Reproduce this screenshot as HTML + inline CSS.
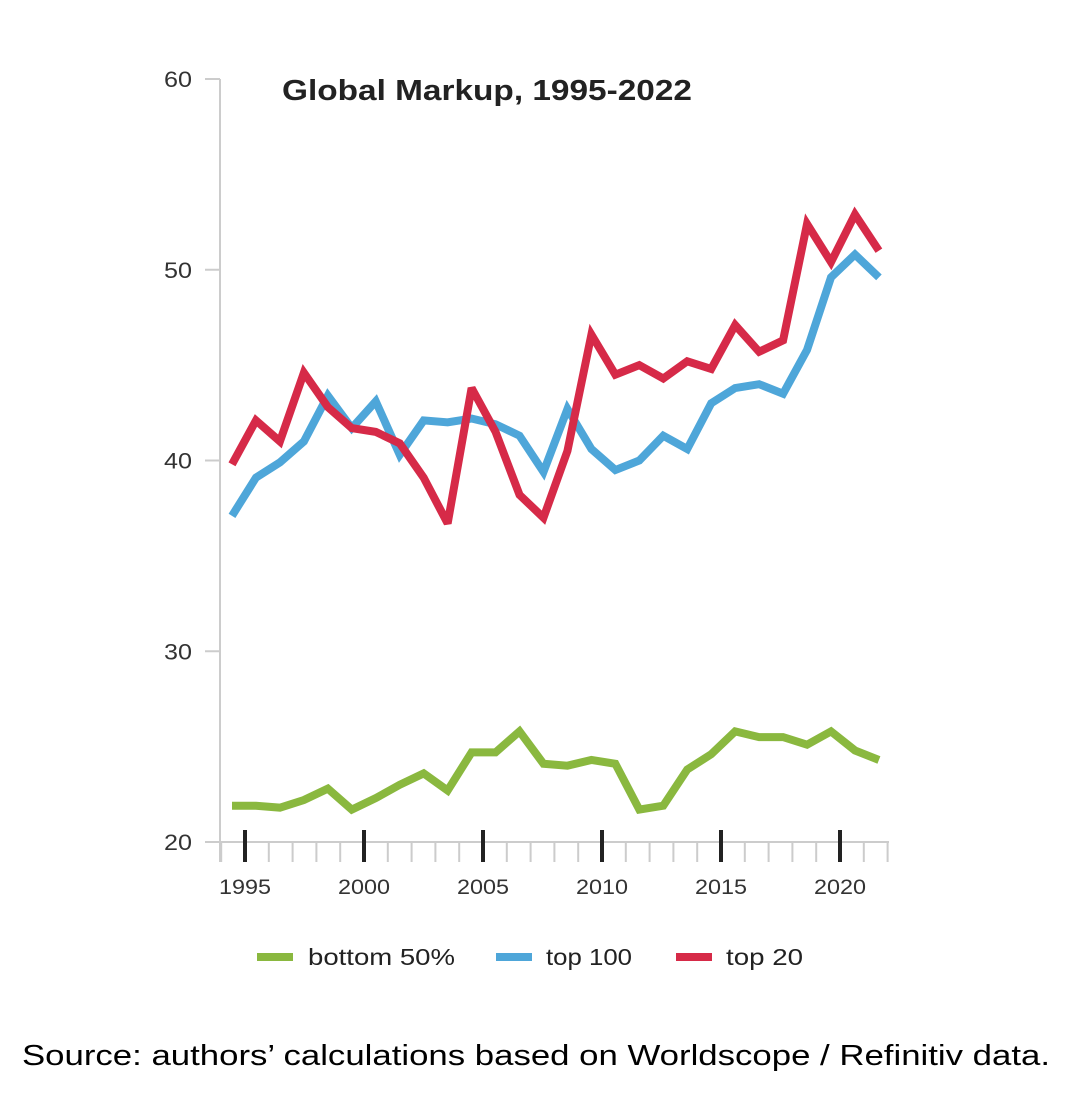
<!DOCTYPE html>
<html><head><meta charset="utf-8"><style>
body{margin:0;background:#fff;width:1072px;height:1090px;overflow:hidden;font-family:"Liberation Sans",sans-serif}
</style></head><body>
<svg width="1072" height="1090">
<text x="282" y="100" font-size="29" font-weight="bold" fill="#222" textLength="410" lengthAdjust="spacingAndGlyphs">Global Markup, 1995-2022</text>
<g id="axes"></g><g id="series"></g>
<g>
<g><line x1="257" y1="957" x2="293" y2="957" stroke="#8ab83f" stroke-width="8"/><text x="308" y="965" font-size="23" fill="#222" textLength="147" lengthAdjust="spacingAndGlyphs">bottom 50%</text></g>
<g><line x1="496" y1="957" x2="532" y2="957" stroke="#4ea6d9" stroke-width="8"/><text x="546" y="965" font-size="23" fill="#222" textLength="86" lengthAdjust="spacingAndGlyphs">top 100</text></g>
<g><line x1="676" y1="957" x2="712" y2="957" stroke="#d62a48" stroke-width="8"/><text x="726" y="965" font-size="23" fill="#222" textLength="77" lengthAdjust="spacingAndGlyphs">top 20</text></g>
</g>
<text x="22" y="1065" font-size="29" fill="#000" textLength="1028" lengthAdjust="spacingAndGlyphs">Source: authors’ calculations based on Worldscope / Refinitiv data.</text>
</svg>
<script>
const years=[1995,1996,1997,1998,1999,2000,2001,2002,2003,2004,2005,2006,2007,2008,2009,2010,2011,2012,2013,2014,2015,2016,2017,2018,2019,2020,2021,2022];
const top20=[39.8,42.1,41.0,44.6,42.8,41.7,41.5,40.9,39.1,36.7,43.8,41.5,38.2,37.0,40.5,46.6,44.5,45.0,44.3,45.2,44.8,47.1,45.7,46.3,52.4,50.4,52.9,51.0];
const top100=[37.1,39.1,39.9,41.0,43.4,41.7,43.1,40.3,42.1,42.0,42.2,41.9,41.3,39.4,42.7,40.6,39.5,40.0,41.3,40.6,43.0,43.8,44.0,43.5,45.8,49.6,50.8,49.6];
const bottom50=[21.9,21.9,21.8,22.2,22.8,21.7,22.3,23.0,23.6,22.7,24.7,24.7,25.8,24.1,24.0,24.3,24.1,21.7,21.9,23.8,24.6,25.8,25.5,25.5,25.1,25.8,24.8,24.3];
const yTicks=[20,30,40,50,60];
const xLabels=[1995,2000,2005,2010,2015,2020];
const NS='http://www.w3.org/2000/svg';
const yS=v=>842-(v-20)*19.075;
const xS=yr=>232+(yr-1995)*23.96;
const tS=yr=>245+(yr-1995)*23.8;
function mk(t,a,p){const e=document.createElementNS(NS,t);for(const k in a)e.setAttribute(k,a[k]);p.appendChild(e);return e;}
const ax=document.getElementById('axes');
let yl=mk('line',{x1:220,y1:79,x2:220,y2:862,stroke:'#ccc','stroke-width':2},ax);


let xl=mk('line',{x1:205,y1:842,x2:889,y2:842,stroke:'#ccc','stroke-width':2},ax);


yTicks.forEach(v=>{
 mk('line',{x1:205,y1:yS(v),x2:220,y2:yS(v),stroke:'#ccc','stroke-width':2},ax);
 const t=mk('text',{x:192,y:yS(v)+8,'font-size':22,fill:'#333','text-anchor':'end',textLength:28,lengthAdjust:'spacingAndGlyphs'},ax);t.textContent=v;
 
 
});
for(let yr=1994;yr<=2022;yr++){mk('line',{x1:tS(yr),y1:842,x2:tS(yr),y2:862,stroke:'#ccc','stroke-width':2},ax);}
xLabels.forEach(yr=>{
 mk('line',{x1:tS(yr),y1:830,x2:tS(yr),y2:862,stroke:'#222','stroke-width':4},ax);
 const t=mk('text',{x:tS(yr),y:894,'font-size':21,fill:'#333','text-anchor':'middle',textLength:52,lengthAdjust:'spacingAndGlyphs'},ax);t.textContent=yr;
 
 
});
const sg=document.getElementById('series');
[[bottom50,'#8ab83f','line-bottom-50'],[top100,'#4ea6d9','line-top-100'],[top20,'#d62a48','line-top-20']].forEach(([d,c,n])=>{
 const p=mk('polyline',{points:d.map((v,i)=>xS(years[i])+','+yS(v)).join(' '),fill:'none',stroke:c,'stroke-width':8,'stroke-linejoin':'miter','stroke-miterlimit':3},sg);
 
 
});
</script>
</body></html>
